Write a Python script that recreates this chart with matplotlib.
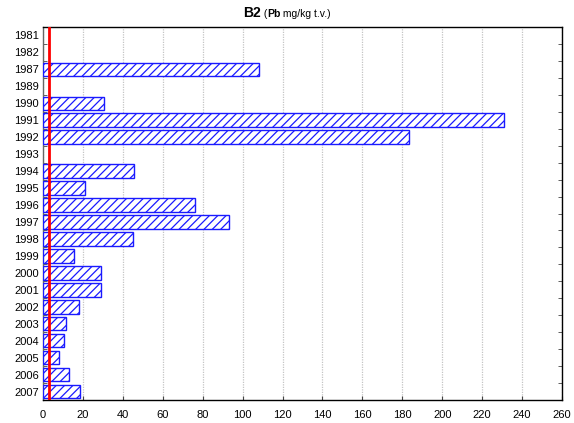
import matplotlib
matplotlib.use('Agg')
import numpy as np
import matplotlib.pyplot as plt
from matplotlib.ticker import FixedLocator, NullFormatter

plt.rcParams.update({
    'font.family': ['Liberation Sans', 'DejaVu Sans'],
    'font.size': 8,
    'hatch.color': '#1010ff',
    'hatch.linewidth': 0.9,
})

years = ['1981', '1982', '1987', '1989', '1990', '1991', '1992', '1993', '1994',
         '1995', '1996', '1997', '1998', '1999', '2000', '2001', '2002', '2003',
         '2004', '2005', '2006', '2007']
pb = [0, 0, 108, 0, 30.6, 230.7, 183.4, 0, 45.4, 21.2, 76, 93, 45, 15.7,
      29, 29.2, 18, 11.7, 10.4, 7.9, 12.9, 18.6]
limit = 3.2
x_ticks = list(range(0, 261, 20))

fig = plt.figure(figsize=(5.74, 4.23), dpi=100)
ax = fig.add_axes([43 / 574, 1 - 400 / 423, 519 / 574, 373 / 423])

pos = np.arange(len(years))
vals = np.array(pb)
mask = vals > 0
ax.barh(pos[mask], vals[mask], height=0.8, left=0, color='white',
        edgecolor='#1a1aff', hatch='////', linewidth=1.0, zorder=3)

ax.axvline(limit, color='#ff0000', lw=2, zorder=4)

ax.set_xlim(0, 260)
ax.set_ylim(len(years) - 0.5, -0.5)
ax.set_xticks(x_ticks)
ax.set_yticks(pos)
ax.set_yticklabels(years)
ax.tick_params(axis='y', which='major', length=0, pad=3)
ax.yaxis.set_minor_locator(FixedLocator(np.arange(-0.5, len(years), 1)))
ax.yaxis.set_minor_formatter(NullFormatter())
ax.tick_params(axis='y', which='minor', direction='in', length=3,
               left=True, right=True, color='#444444')
ax.tick_params(axis='x', which='major', direction='in', length=3, pad=7,
               color='#444444')

ax.grid(axis='x', color='#c4c4c4', linestyle=(0, (1, 1)), lw=0.9, zorder=0)
for s in ax.spines.values():
    s.set_linewidth(1.0)
    s.set_color('black')
ax.spines['left'].set_color('#666666')

# title: bold "B2", then smaller part with bold "Pb"
fig.canvas.draw()
r = fig.canvas.get_renderer()
parts = [('B2', 10, 'bold'), (' (', 7.5, 'normal'), ('Pb', 7.5, 'bold'),
         (' mg/kg t.v.)', 7.5, 'normal')]
texts = []
for s, size, w in parts:
    t = fig.text(0, 1 - 17 / 423, s, fontsize=size, fontweight=w,
                 ha='left', va='baseline')
    texts.append(t)
widths = [t.get_window_extent(r).width for t in texts]
x = 243
for t, w in zip(texts, widths):
    t.set_x(x / 574)
    x += w

fig.savefig('out.png', dpi=100)
